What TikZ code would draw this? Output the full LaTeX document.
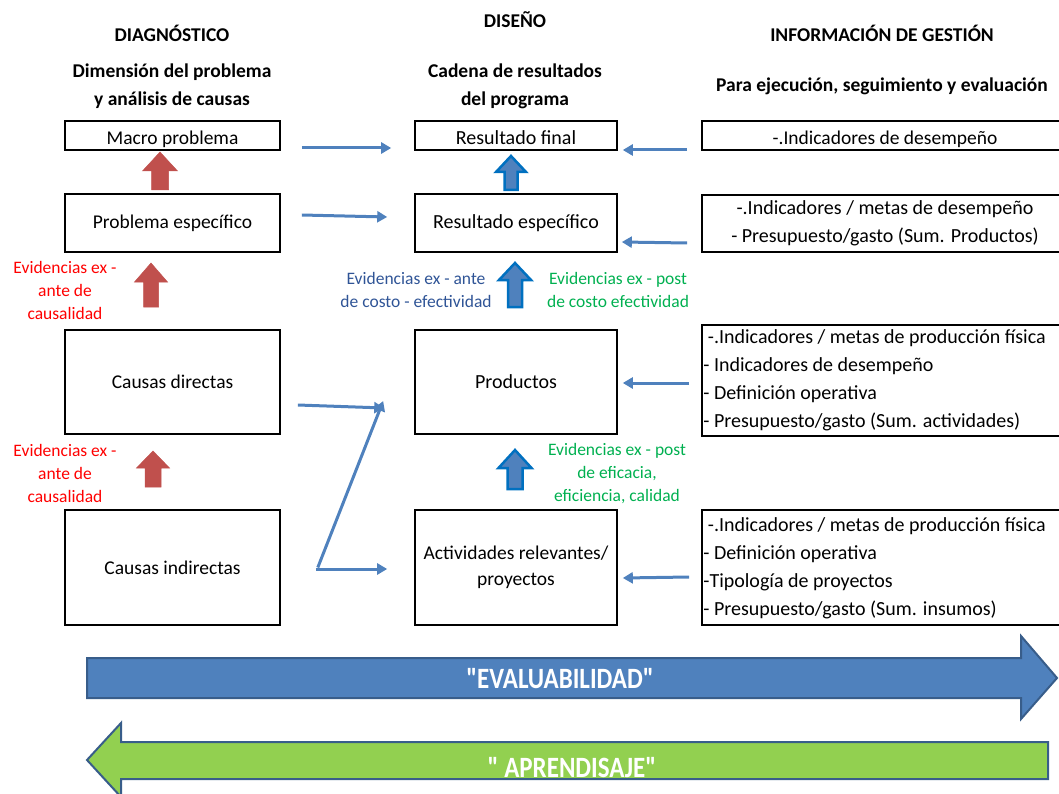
\documentclass[tikz,border=0pt]{standalone}
\usepackage{fontspec}
\setmainfont{Carlito}
\usetikzlibrary{arrows.meta,calc}
\definecolor{ofblue}{RGB}{79,129,189}
\definecolor{ofred}{RGB}{192,80,77}
\definecolor{brblue}{RGB}{0,112,192}
\definecolor{navyline}{RGB}{56,93,138}
\definecolor{evgreen}{RGB}{0,176,80}
\definecolor{lgreen}{RGB}{146,208,80}
\definecolor{dkblue}{RGB}{47,84,150}
\newcommand\blkup[7]{\filldraw[#7] ({#1-#5},#3) -- (#1,#2) -- ({#1+#5},#3) -- ({#1+#6},#3) -- ({#1+#6},#4) -- ({#1-#6},#4) -- ({#1-#6},#3) -- cycle;}
\begin{document}
\begin{tikzpicture}[x=1pt,y=-1pt,
  box/.style={draw=black, line width=1.6pt, inner sep=0pt, font=\fontsize{19.5}{28}\selectfont, align=center},
  bigbox/.style={box, font=\fontsize{20}{28}\selectfont},
  thinbox/.style={text height=23pt, text depth=4pt},
  boxtext/.style={inner sep=0pt, font=\fontsize{20}{28}\selectfont, align=left, anchor=west},
  conn/.style={draw=ofblue, line width=3pt, -{Triangle[length=10pt,width=11pt]}},
  hdr/.style={font=\bfseries\fontsize{19.5}{28}\selectfont, align=center, inner sep=0pt},
  evid/.style={font=\fontsize{17.5}{23}\selectfont, align=center, inner sep=0pt},
  redblk/.style={fill=ofred, draw=ofred, line width=0.5pt},
  blueblk/.style={fill=ofblue, draw=brblue, line width=2.5pt},
  bigarr/.style={draw=navyline, line width=2pt},
  biglbl/.style={font=\bfseries\fontsize{25}{28}\selectfont, text=white, inner sep=0pt}]
\useasboundingbox (0,0) rectangle (1059,794);
\clip (0,0) rectangle (1059,794);

% headers
\node[hdr] (h1) at (172,33) {DIAGNÓSTICO};
\node[hdr] (h2) at (515,20) {DISEÑO};
\node[hdr] (h3) at (882,33) {INFORMACIÓN DE GESTIÓN};
\node[hdr] (s1) at (172,86) {Dimensión del problema\\y análisis de causas};
\node[hdr] (s2) at (515,86) {Cadena de resultados\\del programa};
\node[hdr] (s3) at (882,86) {Para ejecución, seguimiento y evaluación};

% left column
\node[box, thinbox, minimum width=215pt, minimum height=29pt] (mp) at (172.5,135.5) {Macro problema};
\node[box, minimum width=215pt, minimum height=58pt] (pe) at (172.5,223) {Problema específico};
\node[box, minimum width=215pt, minimum height=104pt] (cd) at (172.5,382) {Causas directas};
\node[box, minimum width=215pt, minimum height=115pt] (ci) at (172.5,567.5) {Causas indirectas};

% middle column
\node[bigbox, thinbox, minimum width=202pt, minimum height=29pt] (rf) at (516,135.5) {Resultado final};
\node[bigbox, minimum width=202pt, minimum height=58pt] (rs) at (516,223) {Resultado específico};
\node[bigbox, minimum width=202pt, minimum height=104pt] (pr) at (516,382) {Productos};
\node[bigbox, minimum width=202pt, minimum height=115pt, font=\fontsize{19.5}{26}\selectfont] (ar) at (516,567.5) {Actividades relevantes/\\proyectos};

% right column
\node[box, thinbox, minimum width=366pt, minimum height=29pt] (g1) at (885,135.5) {-.Indicadores de desempeño};
\node[bigbox, minimum width=366pt, minimum height=57pt] (g2) at (885,223.5) {-.Indicadores / metas de desempeño\\- Presupuesto/gasto (Sum. Productos)};
\node[box, minimum width=366pt, minimum height=111pt] (g3) at (885,380.5) {};
\node[boxtext] (g3t) at ($(g3.west)+(2,0)$) {\ -.Indicadores / metas de producción física\\- Indicadores de desempeño\\- Definición operativa\\- Presupuesto/gasto (Sum. actividades)};
\node[box, minimum width=366pt, minimum height=115pt] (g4) at (885,567.5) {};
\node[boxtext] (g4t) at ($(g4.west)+(2,1)$) {\ -.Indicadores / metas de producción física\\- Definición operativa\\-Tipología de proyectos\\- Presupuesto/gasto (Sum. insumos)};

% block arrows
\blkup{160}{152}{171}{190}{17.5}{8.5}{redblk}
\blkup{151}{263}{282}{307}{16.5}{7.5}{redblk}
\blkup{153}{451}{468}{487}{16.5}{8}{redblk}
\blkup{511}{156}{172}{190}{15}{6.5}{blueblk}
\blkup{515}{263}{280}{307}{16}{7}{blueblk}
\blkup{515}{450}{468}{489}{16.5}{7.5}{blueblk}

% evidence labels
\node[evid, text=red] (e1) at (65,290) {Evidencias ex -\\ante de\\causalidad};
\node[evid, text=red] (e2) at (65,473) {Evidencias ex -\\ante de\\causalidad};
\node[evid, text=dkblue] (e3) at (416,289.5) {Evidencias ex - ante\\de costo - efectividad};
\node[evid, text=evgreen] (e4) at (618,289.5) {Evidencias ex - post\\de costo efectividad};
\node[evid, text=evgreen] (e5) at (617,474) {Evidencias ex - post\\de eficacia,\\eficiencia, calidad};

% connectors
\draw[conn] ($(mp.east)+(21,12.5)$) -- ($(rf.west)+(-23,12.5)$);
\draw[conn] ($(pe.east)+(21,-8)$) -- ($(rs.west)+(-27,-6)$);
\draw[conn] ($(cd.east)+(17,23)$) -- ($(pr.west)+(-30,26)$);
\draw[conn] ($(ci.east)+(35,1.5)$) -- ($(ar.west)+(-27,1.5)$);
\draw[conn] ($(ci.east)+(37,0)$) -- ($(pr.west)+(-31,19)$);
\draw[conn] ($(g1.west)+(-14,14.5)$) -- ($(rf.east)+(5,14.5)$);
\draw[conn] ($(g2.west)+(-14,19.5)$) -- ($(rs.east)+(4,19)$);
\draw[conn] ($(g3.west)+(-12,2.5)$) -- ($(pr.east)+(5,1)$);
\draw[conn] ($(g4.west)+(-12,9.5)$) -- ($(ar.east)+(5,10.5)$);

% big arrows
\filldraw[bigarr, fill=ofblue] (87,658) -- (1021,658) -- (1021,636) -- (1057,678) -- (1021,719) -- (1021,698) -- (87,698) -- cycle;
\node[biglbl] (ev) at (560,679) {\scalebox{1}[1.18]{\textquotedbl EVALUABILIDAD\textquotedbl}};
\filldraw[bigarr, fill=lgreen] (1048,742) -- (121,742) -- (121,723) -- (87,760) -- (121,797) -- (121,779) -- (1048,779) -- cycle;
\begin{scope}
\clip (121,743) rectangle (1047,778);
\node[biglbl, anchor=base] (ap) at (572,777) {\scalebox{1}[1.18]{\textquotedbl{} APRENDISAJE\textquotedbl}};
\end{scope}
\end{tikzpicture}
\end{document}
